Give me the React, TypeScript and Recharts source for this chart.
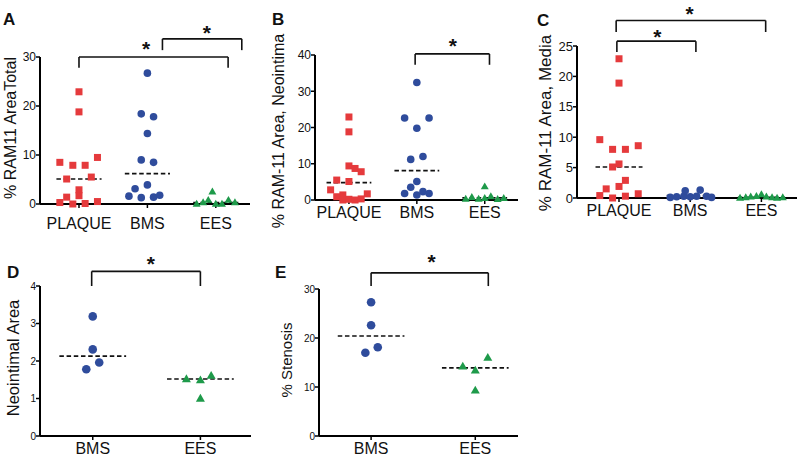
import React from 'react';
import { ScatterChart, Scatter, XAxis, YAxis, ReferenceLine, ReferenceDot } from 'recharts';

const FONT = "'Liberation Sans', Arial, Helvetica, sans-serif";

const RED = '#e53a3c';
const BLUE = '#2f4c9c';
const GREEN = '#1e9a4a';

// category labels
const catsTop = ['PLAQUE', 'BMS', 'EES'];
const catsBottom = ['BMS', 'EES'];

// A - % RAM11 AreaTotal
const aPlaque = [22.9, 18.8, 8.5, 7.9, 7.9, 9.5, 5.1, 5.5, 2.9, 1.7, 1.4, 0.3, 0, 0.1, 0.5];
const aPlaqueJit = [0, 0, -0.28, -0.09, 0.09, 0.27, -0.18, 0.18, 0, 0, -0.18, -0.28, -0.09, 0.09, 0.27];
const aBms = [26.7, 18.4, 17.8, 14.4, 9.0, 8.5, 3.1, 3.9, 1.6, 1.3, 1.4, 1.8];
const aBmsJit = [0, -0.09, 0.09, 0, -0.09, 0.09, -0.18, 0, -0.27, -0.09, 0.09, 0.18];
const aEes = [0, 0.3, 0.8, 2.5, 0, 0, 0.8, 0.3];
const aEesJit = [-0.28, -0.185, -0.11, -0.05, 0, 0.09, 0.185, 0.28];
const aMeans = [5.1, 6.2, 0.3];

// B - % RAM-11 Area, Neointima
const bPlaque = [22.9, 18.8, 9.4, 8.7, 7.8, 5.5, 5.1, 2.8, 1.4, 0.9, 0, 0.2, 0, 0.3, 1.7];
const bPlaqueJit = [0, 0, 0, 0.09, 0.18, -0.18, 0, -0.27, -0.09, -0.18, -0.09, 0, 0.09, 0.18, 0.27];
const bBms = [32.4, 22.6, 22.6, 19.8, 11.2, 12.0, 5.1, 3.5, 1.8, 1.4, 2.3, 1.8];
const bBmsJit = [0, -0.18, 0.18, 0, -0.09, 0.09, 0, -0.09, -0.18, 0, 0.09, 0.18];
const bEes = [0.3, 0.8, 0.3, 3.7, 0.5, 1.0, 0.2, 0.5];
const bEesJit = [-0.28, -0.19, -0.09, 0, 0, 0.09, 0.19, 0.28];
const bMeans = [4.8, 8.1, 0.6];

// C - % RAM-11 Area, Media
const cPlaque = [22.9, 18.9, 9.6, 8.0, 8.0, 8.6, 5.1, 5.6, 2.9, 1.9, 1.5, 0.4, 0, 0.3, 0.7];
const cPlaqueJit = [0, 0, -0.27, -0.09, 0.09, 0.27, -0.09, 0, 0.09, 0, -0.18, -0.27, -0.09, 0.09, 0.27];
const cBms = [0.1, 0.2, 0.3, 1.2, 0.2, 0.3, 1.3, 0.3, 0.1];
const cBmsJit = [-0.28, -0.19, -0.09, -0.07, 0, 0.09, 0.14, 0.23, 0.3];
const cEes = [0, 0.1, 0.2, 0.3, 0.6, 0.2, 0.1, 0, 0.1];
const cEesJit = [-0.3, -0.22, -0.15, -0.07, 0, 0.07, 0.15, 0.22, 0.3];
const cMeans = [5.1, 0.4, 0.1];

// D - Neointimal Area
const dBms = [3.19, 2.31, 1.96, 1.78];
const dBmsJit = [0, 0, 0.06, -0.06];
const dEes = [1.52, 1.49, 1.61, 1.0];
const dEesJit = [-0.13, 0, 0.1, 0];
const dMeans = [2.13, 1.52];

// E - % Stenosis
const eBms = [27.3, 22.6, 18.1, 17.0];
const eBmsJit = [0, 0, 0.064, -0.055];
const eEes = [14.2, 13.4, 16.0, 9.3];
const eEesJit = [-0.12, 0, 0.12, 0];
const eMeans = [20.4, 13.9];

const pts = (cat: number, vals: number[], jit: number[]) =>
  vals.map((y, i) => ({ x: cat + jit[i], y }));

const Square = (s: number, color: string) => (p: any) =>
  <rect x={p.cx - s / 2} y={p.cy - s / 2} width={s} height={s} fill={color} />;
const Dot = (r: number, color: string) => (p: any) =>
  <circle cx={p.cx} cy={p.cy} r={r} fill={color} />;
const Tri = (s: number, color: string) => (p: any) => {
  const h = s * 0.87;
  return (
    <polygon
      points={`${p.cx},${p.cy - h * 0.6} ${p.cx - s / 2},${p.cy + h * 0.4} ${p.cx + s / 2},${p.cy + h * 0.4}`}
      fill={color}
    />
  );
};

const Star = (p: any) => (
  <text x={p.cx} y={p.cy + 11} textAnchor="middle" fontSize={21} fontWeight="bold" fontFamily={FONT} fill="#111">*</text>
);

type Bracket = { x1: number; x2: number; top: number; leg: number };

function Panel(props: any) {
  const { w, h, left, top, right, bottom, xDomain, yMax, yTicks, cats, groups, means, half,
    brackets, stars, tickFs, catFs, catGap } = props;
  return (
    <ScatterChart width={w} height={h} margin={{ top, right: w - right, bottom: 0, left: 0 }}>
      <XAxis
        type="number"
        dataKey="x"
        domain={xDomain}
        ticks={cats.map((_: string, i: number) => i + 1)}
        interval={0}
        tickFormatter={(v: number) => cats[v - 1]}
        height={h - bottom}
        axisLine={{ stroke: '#000', strokeWidth: 2 }}
        tickLine={{ stroke: '#000', strokeWidth: 1.5 }}
        tickSize={4}
        tickMargin={catGap}
        tick={{ fill: '#111', fontSize: catFs, fontFamily: FONT }}
      />
      <YAxis
        type="number"
        dataKey="y"
        domain={[0, yMax]}
        ticks={yTicks}
        interval={0}
        width={left}
        axisLine={{ stroke: '#000', strokeWidth: 2 }}
        tickLine={{ stroke: '#000', strokeWidth: 1.5 }}
        tickSize={4}
        tickMargin={0}
        tick={{ fill: '#111', fontSize: tickFs, fontFamily: FONT }}
      />
      {groups.map((g: any, i: number) => (
        <Scatter key={i} data={g.data} shape={g.shape} isAnimationActive={false} />
      ))}
      {means.map((m: number, i: number) => (
        <ReferenceLine
          key={'m' + i}
          segment={[{ x: i + 1 - half, y: m }, { x: i + 1 + half, y: m }]}
          stroke="#111"
          strokeWidth={1.6}
          strokeDasharray="4.5 2.7"
          ifOverflow="visible"
        />
      ))}
      {brackets.map((b: Bracket, i: number) => [
        <ReferenceLine key={'bl' + i} segment={[{ x: b.x1, y: b.leg }, { x: b.x1, y: b.top }]} stroke="#111" strokeWidth={1.6} ifOverflow="visible" />,
        <ReferenceLine key={'bt' + i} segment={[{ x: b.x1, y: b.top }, { x: b.x2, y: b.top }]} stroke="#111" strokeWidth={1.6} ifOverflow="visible" />,
        <ReferenceLine key={'br' + i} segment={[{ x: b.x2, y: b.top }, { x: b.x2, y: b.leg }]} stroke="#111" strokeWidth={1.6} ifOverflow="visible" />,
      ])}
      {stars.map((s: { x: number; y: number }, i: number) => (
        <ReferenceDot key={'s' + i} x={s.x} y={s.y} r={0} shape={Star} ifOverflow="visible" />
      ))}
    </ScatterChart>
  );
}

const box = (x: number, y: number): React.CSSProperties => ({ position: 'absolute', left: x, top: y });

export default function App() {
  return (
    <div style={{ position: 'absolute', left: 0, top: 0, width: 800, height: 459, background: '#fff', overflow: 'hidden' }}>
      <div style={box(0, 0)}>
        <Panel
          w={265} h={240} left={40} top={57} right={250} bottom={204}
          xDomain={[0.43, 3.5]} yMax={30} yTicks={[0, 10, 20, 30]} cats={catsTop}
          groups={[
            { data: pts(1, aPlaque, aPlaqueJit), shape: Square(7, RED) },
            { data: pts(2, aBms, aBmsJit), shape: Dot(3.8, BLUE) },
            { data: pts(3, aEes, aEesJit), shape: Tri(8, GREEN) },
          ]}
          means={aMeans} half={0.33}
          brackets={[{ x1: 1.0, x2: 3.18, top: 30, leg: 27.8 }, { x1: 2.22, x2: 3.38, top: 33.7, leg: 31.4 }]}
          stars={[{ x: 1.98, y: 32.4 }, { x: 2.87, y: 35.7 }]}
          tickFs={12} catFs={16} catGap={10}
        />
      </div>
      <div style={box(265, 0)}>
        <Panel
          w={268} h={232} left={50} top={55} right={253} bottom={200}
          xDomain={[0.5, 3.49]} yMax={40} yTicks={[0, 10, 20, 30, 40]} cats={catsTop}
          groups={[
            { data: pts(1, bPlaque, bPlaqueJit), shape: Square(7, RED) },
            { data: pts(2, bBms, bBmsJit), shape: Dot(3.8, BLUE) },
            { data: pts(3, bEes, bEesJit), shape: Tri(8, GREEN) },
          ]}
          means={bMeans} half={0.33}
          brackets={[{ x1: 1.975, x2: 3.07, top: 40.3, leg: 37.3 }]}
          stars={[{ x: 2.53, y: 43.6 }]}
          tickFs={12} catFs={16} catGap={3}
        />
      </div>
      <div style={box(530, 0)}>
        <Panel
          w={270} h={232} left={47} top={46} right={267} bottom={198}
          xDomain={[0.41, 3.5]} yMax={25} yTicks={[0, 5, 10, 15, 20, 25]} cats={catsTop}
          groups={[
            { data: pts(1, cPlaque, cPlaqueJit), shape: Square(7, RED) },
            { data: pts(2, cBms, cBmsJit), shape: Dot(3.8, BLUE) },
            { data: pts(3, cEes, cEesJit), shape: Tri(8, GREEN) },
          ]}
          means={cMeans} half={0.33}
          brackets={[{ x1: 0.96, x2: 3.06, top: 29.2, leg: 27.3 }, { x1: 0.97, x2: 2.08, top: 25.8, leg: 24.0 }]}
          stars={[{ x: 1.99, y: 30.9 }, { x: 1.54, y: 27.1 }]}
          tickFs={13} catFs={16} catGap={3}
        />
      </div>
      <div style={box(0, 230)}>
        <Panel
          w={265} h={229} left={40} top={56} right={251} bottom={206}
          xDomain={[0.51, 2.47]} yMax={4} yTicks={[0, 1, 2, 3, 4]} cats={catsBottom}
          groups={[
            { data: pts(1, dBms, dBmsJit), shape: Dot(4.3, BLUE) },
            { data: pts(2, dEes, dEesJit), shape: Tri(9, GREEN) },
          ]}
          means={dMeans} half={0.31}
          brackets={[{ x1: 0.99, x2: 2.0, top: 4.39, leg: 4.0 }]}
          stars={[{ x: 1.54, y: 4.7 }]}
          tickFs={10} catFs={16} catGap={3}
        />
      </div>
      <div style={box(265, 230)}>
        <Panel
          w={268} h={229} left={54} top={59} right={253} bottom={206}
          xDomain={[0.5, 2.41]} yMax={30} yTicks={[0, 10, 20, 30]} cats={catsBottom}
          groups={[
            { data: pts(1, eBms, eBmsJit), shape: Dot(4.3, BLUE) },
            { data: pts(2, eEes, eEesJit), shape: Tri(9, GREEN) },
          ]}
          means={eMeans} half={0.32}
          brackets={[{ x1: 1.0, x2: 2.125, top: 33.3, leg: 30.6 }]}
          stars={[{ x: 1.58, y: 36.3 }]}
          tickFs={10} catFs={16} catGap={3}
        />
      </div>
      <svg width={800} height={459} style={{ position: 'absolute', left: 0, top: 0, pointerEvents: 'none' }} fontFamily={FONT}>
        <g fontWeight="bold" fontSize={17} fill="#111">
          <text x={3} y={25}>A</text>
          <text x={272} y={25}>B</text>
          <text x={537} y={26}>C</text>
          <text x={7} y={278}>D</text>
          <text x={275} y={278}>E</text>
        </g>
        <g fill="#111" textAnchor="middle" dominantBaseline="central">
          <text transform="translate(10,128) rotate(-90)" fontSize={16}>% RAM11 AreaTotal</text>
          <text transform="translate(278,131) rotate(-90)" fontSize={16}>% RAM-11 Area, Neointima</text>
          <text transform="translate(545,123) rotate(-90)" fontSize={17}>% RAM-11 Area, Media</text>
          <text transform="translate(13,358) rotate(-90)" fontSize={16.5}>Neointimal Area</text>
          <text transform="translate(286,360) rotate(-90)" fontSize={15}>% Stenosis</text>
        </g>
      </svg>
    </div>
  );
}
